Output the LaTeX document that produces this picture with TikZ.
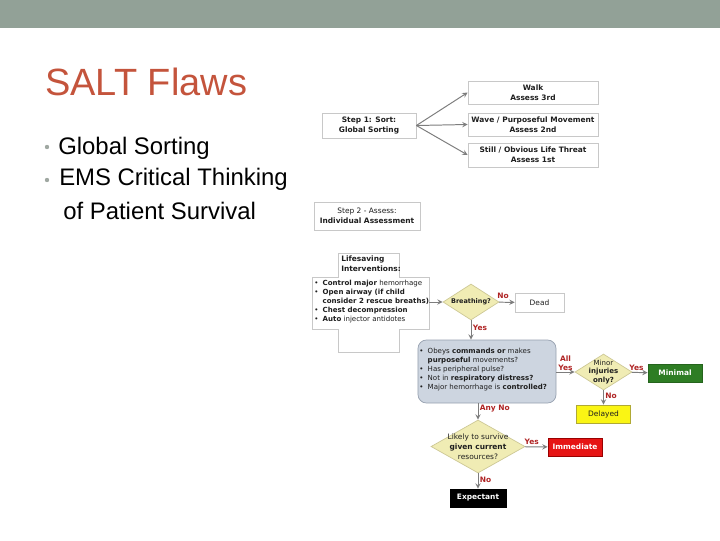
\documentclass[tikz,border=0pt]{standalone}
\usepackage{fontspec}
\setmainfont{Liberation Sans}
\newfontfamily\flowfont{DejaVu Sans}
\usetikzlibrary{shapes.geometric, arrows, positioning}
\definecolor{bandgreen}{RGB}{146, 161, 151}
\definecolor{titlered}{RGB}{196, 84, 60}
\definecolor{bodytext}{RGB}{30, 30, 30}
\definecolor{dotgray}{RGB}{160, 168, 162}
\definecolor{edgegray}{RGB}{200, 200, 200}
\definecolor{arrowgray}{RGB}{125, 125, 125}
\definecolor{labelred}{RGB}{175, 35, 35}
\definecolor{diamondfill}{RGB}{240, 236, 180}
\definecolor{diamondedge}{RGB}{205, 200, 150}
\definecolor{checkfill}{RGB}{205, 213, 224}
\definecolor{checkedge}{RGB}{150, 160, 175}
\definecolor{minimalgreen}{RGB}{46, 125, 36}
\definecolor{delayedyellow}{RGB}{250, 245, 20}
\definecolor{immediatered}{RGB}{230, 20, 20}
\newcommand{\flowsize}{\fontsize{5.3}{7}\selectfont}
\newcommand{\listsize}{\fontsize{5}{6.4}\selectfont}
\newcommand{\bul}{\makebox[6pt][l]{•}}
\tikzset{
  box/.style={rectangle, draw=edgegray, fill=white, line width=0.5pt,
    inner sep=0pt, align=center, text=bodytext, font=\flowfont\flowsize},
  outcome/.style={rectangle, draw=black!60, line width=0.5pt, inner sep=0pt,
    minimum width=1.35cm, minimum height=0.45cm, align=center,
    font=\flowfont\flowsize\bfseries},
  decision/.style={diamond, draw=diamondedge, fill=diamondfill,
    line width=0.5pt, inner sep=0pt},
  centertext/.style={align=center, text=bodytext, font=\flowfont\flowsize},
  yesno/.style={text=labelred, font=\flowfont\flowsize\bfseries, inner sep=1pt},
  arrow/.style={->,>=stealth,color=arrowgray,line width=0.7pt}
}

\begin{document}
\begin{tikzpicture}[x=0.025cm, y=-0.025cm]
\useasboundingbox (0,0) rectangle (720,540);
\fill[bandgreen] (0,0) rectangle (720,28);

% slide text
\node (title) [anchor=base west, inner sep=0pt, text=titlered,
  font=\fontsize{27}{30}\selectfont] at (45,95) {SALT Flaws};
\node (pointa) [anchor=base west, inner sep=0pt, font=\fontsize{17}{20}\selectfont]
  at (58,154) {Global Sorting};
\node (pointb) [anchor=base west, inner sep=0pt, font=\fontsize{17}{20}\selectfont]
  at (59,185) {EMS Critical Thinking};
\node (pointc) [anchor=base west, inner sep=0pt, font=\fontsize{17}{20}\selectfont]
  at (63,219) {of Patient Survival};
\fill[dotgray] (47,147) circle (2.2);
\fill[dotgray] (47,180) circle (2.2);

% step 1
\node (sort)  [box, minimum width=2.35cm, minimum height=0.625cm, font=\flowfont\flowsize\bfseries]
  at (369,125.5) {Step 1: Sort:\\Global Sorting};
\node (walk)  [box, minimum width=3.25cm, minimum height=0.575cm, font=\flowfont\flowsize\bfseries]
  at (533,92.5) {Walk\\Assess 3rd};
\node (wave)  [box, minimum width=3.25cm, minimum height=0.575cm, font=\flowfont\flowsize\bfseries]
  at (533,124.5) {Wave / Purposeful Movement\\Assess 2nd};
\node (still) [box, minimum width=3.25cm, minimum height=0.6cm, font=\flowfont\flowsize\bfseries]
  at (533,155) {Still / Obvious Life Threat\\Assess 1st};
\draw[arrow] (sort.east) -- (walk.west);
\draw[arrow] (sort.east) -- (wave.west);
\draw[arrow] (sort.east) -- (still.west);

% step 2
\node (assess) [box, minimum width=2.65cm, minimum height=0.7cm]
  at (367,216) {Step 2 - Assess:\\\textbf{Individual Assessment}};

% lifesaving interventions
\draw[edgegray, fill=white, line width=0.5pt]
  (338,253) -- (399,253) -- (399,277) -- (429,277) -- (429,329) -- (399,329)
  -- (399,352) -- (338,352) -- (338,329) -- (312,329) -- (312,277) -- (338,277) -- cycle;
\coordinate (lsiout) at (429,302);
\node (lsihead) [anchor=north west, inner sep=0pt, align=left, text=bodytext,
  font=\flowfont\flowsize\bfseries] at (341,256) {Lifesaving\\Interventions:};
\node (lsilist) [anchor=west, inner sep=0pt, align=left, text=bodytext,
  font=\flowfont\listsize] at (314,302)
  {\bul\textbf{Control major} hemorrhage\\
   \bul\textbf{Open airway (if child}\\
   \hspace*{6pt}\textbf{consider 2 rescue breaths)}\\
   \bul\textbf{Chest decompression}\\
   \bul\textbf{Auto} injector antidotes};

% step 2 decisions
\node (breathing) [decision, minimum width=1.4cm, minimum height=0.9cm,
  label={[centertext, font=\flowfont\fontsize{4.6}{6}\selectfont\bfseries]center:Breathing?}] at (471,302) {};
\node (dead) [box, minimum width=1.225cm, minimum height=0.475cm] at (539.5,302.5) {Dead};
\node (checks) [rectangle, rounded corners=6pt, draw=checkedge, fill=checkfill,
  line width=0.5pt, minimum width=3.45cm, minimum height=1.575cm] at (487,371.5) {};
\node (checklist) [anchor=west, inner sep=0pt, align=left, text=bodytext,
  font=\flowfont\listsize] at (419,370)
  {\bul Obeys \textbf{commands or} makes\\
   \hspace*{6pt}\textbf{purposeful} movements?\\
   \bul Has peripheral pulse?\\
   \bul Not in \textbf{respiratory distress?}\\
   \bul Major hemorrhage is \textbf{controlled?}};
\node (minor) [decision, minimum width=1.425cm, minimum height=0.9cm,
  label={[centertext, font=\flowfont\fontsize{5}{6.2}\selectfont]center:Minor\\\textbf{injuries}\\\textbf{only?}}] at (603.5,372) {};
\node (minimal) [outcome, fill=minimalgreen, draw=minimalgreen!80!black, text=white]
  at (675,373) {Minimal};
\node (delayed) [outcome, fill=delayedyellow, draw=olive!70, text=bodytext,
  font=\flowfont\flowsize] at (603.5,414) {Delayed};
\node (likely) [decision, minimum width=2.35cm, minimum height=1.325cm,
  label={[centertext]center:Likely to survive\\\textbf{given current}\\resources?}] at (478,446.5) {};
\node (immediate) [outcome, fill=immediatered, draw=red!60!black, text=white]
  at (575,447) {Immediate};
\node (expectant) [outcome, minimum width=1.4cm, fill=black, draw=black, text=white]
  at (478,498) {Expectant};

\draw[arrow] (lsiout) -- (breathing);
\draw[arrow] (breathing) -- node[yesno, above, pos=0.25, yshift=1pt]{No} (dead);
\draw[arrow] (breathing) -- node[yesno, right, pos=0.4]{Yes} (breathing |- checks.north);
\draw[arrow] (checks.east |- minor) --
  node[yesno, above, align=center, font=\flowfont\fontsize{5.3}{5.8}\selectfont\bfseries]{All\\Yes} (minor);
\draw[arrow] (minor) -- node[yesno, above, pos=0.3]{Yes} (minimal);
\draw[arrow] (minor) -- node[yesno, right, pos=0.35]{No} (delayed);
\draw[arrow] (likely |- checks.south) -- node[yesno, right, pos=0.3]{Any No} (likely);
\draw[arrow] (likely) -- node[yesno, above, pos=0.3]{Yes} (immediate);
\draw[arrow] (likely) -- node[yesno, right, pos=0.4]{No} (expectant);
\end{tikzpicture}
\end{document}
